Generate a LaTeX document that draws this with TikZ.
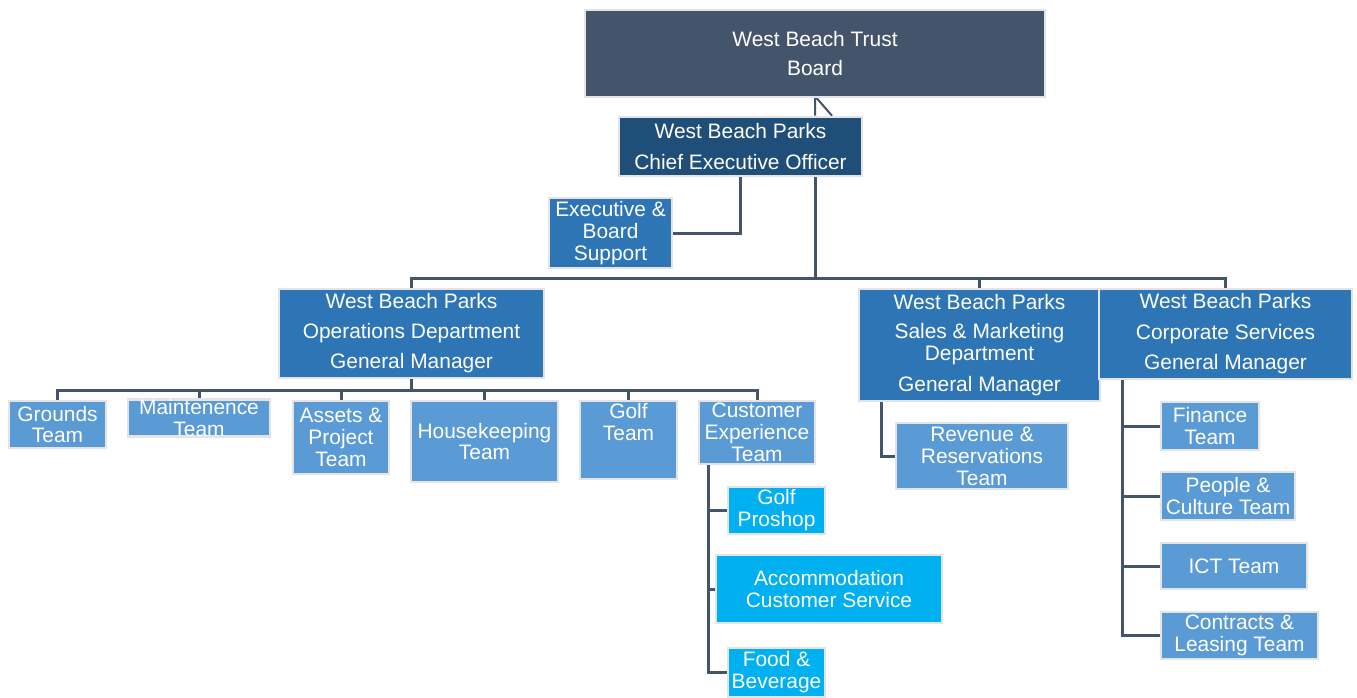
\documentclass[tikz,border=0pt]{standalone}
\usepackage{fontspec}
\setmainfont{Liberation Sans}
\usetikzlibrary{backgrounds}
\definecolor{boardc}{HTML}{44546A}
\definecolor{ceoc}{HTML}{1F4E79}
\definecolor{deptc}{HTML}{2E75B6}
\definecolor{teamc}{HTML}{5B9BD5}
\definecolor{subc}{HTML}{00B0F0}
\definecolor{linec}{HTML}{44546A}
\definecolor{edgec}{HTML}{E4E4E4}
\newcommand\bx[7]{\node[box,fill=#6,minimum width={(#4-#2)*1bp},minimum height={(#5-#3)*1bp}] (#1) at ({(#2+#4)/2},{(#3+#5)/2}) {#7};}
\tikzset{
  box/.style={draw=edgec,line width=2.5bp,inner sep=0pt,text=white,align=center,
    font=\fontsize{21}{22}\selectfont},
  conn/.style={draw=linec,line width=3bp}
}
\begin{document}
\begin{tikzpicture}[x=1bp,y=-1bp]
\useasboundingbox (0,0) rectangle (1357,697);
\bx{board}{585}{10}{1045}{97}{boardc}{West Beach Trust\\[8bp]Board}
\bx{ceo}{619}{117}{862}{176}{ceoc}{West Beach Parks\\[9bp]Chief Executive Officer}
\bx{exec}{549}{198}{672}{268}{deptc}{Executive \&\\Board\\Support}
\bx{ops}{279}{289}{544}{378}{deptc}{West Beach Parks\\[8bp]Operations Department\\[8bp]General Manager}
\bx{sales}{859}{289}{1100}{401}{deptc}{West Beach Parks\\[8bp]Sales \& Marketing\\Department\\[9bp]General Manager}
\bx{corp}{1099}{289}{1352}{379}{deptc}{West Beach Parks\\[9bp]Corporate Services\\[8bp]General Manager}
\bx{grounds}{9}{401}{106}{448}{teamc}{Grounds\\Team}
\bx{maint}{128}{401}{270}{435}{teamc}{Maintenence\\Team}
\bx{assets}{293}{401}{389}{474}{teamc}{Assets \&\\Project\\Team}
\bx{house}{411}{401}{558}{482}{teamc}{Housekeeping\\Team}
\bx{golf}{580}{401}{677}{479}{teamc}{}
\node[align=center,text=white,font=\fontsize{21}{22}\selectfont,anchor=north,inner sep=0pt] (golft) at ([yshift=-3bp]golf.north) {Golf\\Team};
\bx{ce}{699}{401}{815}{464}{teamc}{Customer\\Experience\\Team}
\bx{pro}{728}{487}{825}{534}{subc}{Golf\\Proshop}
\bx{acc}{716}{555}{942}{623}{subc}{Accommodation\\Customer Service}
\bx{food}{728}{648}{825}{697}{subc}{Food \&\\Beverage}
\bx{rev}{896}{423}{1068}{489}{teamc}{Revenue \&\\Reservations\\Team}
\bx{fin}{1161}{402}{1259}{450}{teamc}{Finance\\Team}
\bx{people}{1161}{472}{1295}{520}{teamc}{People \&\\Culture Team}
\bx{ict}{1161}{543}{1307}{589}{teamc}{ICT Team}
\bx{contr}{1161}{612}{1318}{659}{teamc}{Contracts \&\\Leasing Team}
\begin{scope}[on background layer]
\coordinate (bus1) at (board.south |- 0,278);
\coordinate (bus2) at (ops.south |- 0,390);
% board link
\draw[conn,line width=2bp] (ceo.north -| board.south) -- ([yshift=2bp]board.south) -- ([xshift=17bp]ceo.north -| board.south);
\draw[conn] (ceo.south -| board.south) -- (bus1);
\draw[conn] (ceo.south) |- (exec.east);
\draw[conn] (ops.north) -- (ops.north |- bus1) -- (corp.north |- bus1) -- (corp.north);
\draw[conn] (sales.north |- bus1) -- (sales.north);
% operations teams
\draw[conn] (ops.south) -- (bus2);
\draw[conn] (grounds.north) -- (grounds.north |- bus2) -- (ce.north |- bus2) -- (ce.north);
\foreach \n in {maint,assets,house,golf} \draw[conn] (\n.north |- bus2) -- (\n.north);
% customer experience
\coordinate (cespine) at ([xshift=11bp]ce.south west);
\draw[conn] (cespine) |- (food.west);
\draw[conn] (cespine |- pro.west) -- (pro.west);
\draw[conn] (cespine |- acc.west) -- (acc.west);
% sales
\draw[conn] ([xshift=24bp]sales.south west) |- (rev.west);
% corporate
\coordinate (cspine) at ([xshift=25bp]corp.south west);
\draw[conn] (cspine) |- (contr.west);
\foreach \n in {fin,people,ict} \draw[conn] (cspine |- \n.west) -- (\n.west);
\end{scope}
\end{tikzpicture}
\end{document}
